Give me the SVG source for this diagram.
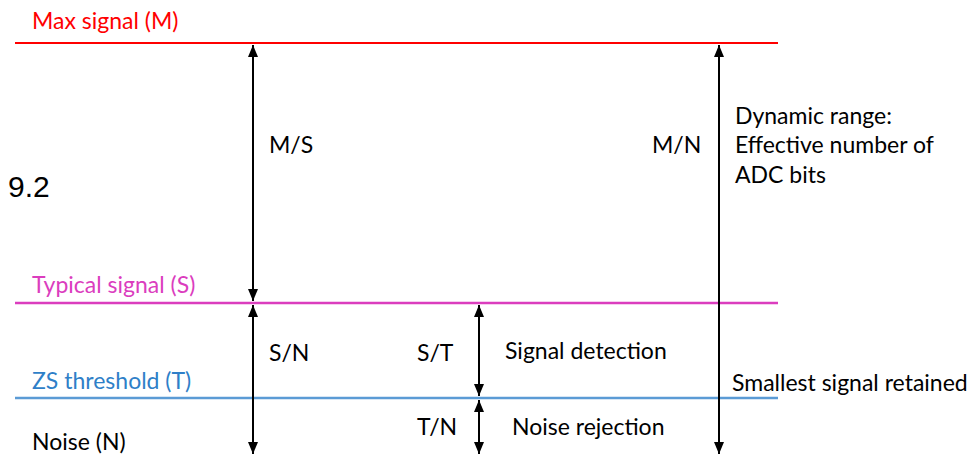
<svg xmlns="http://www.w3.org/2000/svg" width="972" height="455" viewBox="0 0 972 455">
<style>
text{font-family:"Lato","Liberation Sans",sans-serif;font-size:23px;fill:#000}
.conn line{stroke:#000;stroke-width:2}
</style>
<defs>
<marker id="ah" viewBox="0 0 12 10" refX="12" refY="5" markerWidth="12" markerHeight="10" markerUnits="userSpaceOnUse" orient="auto-start-reverse">
<path d="M0,0 L12,5 L0,10 Z" fill="#000"/>
</marker>
</defs>
<rect width="972" height="455" fill="#fff"/>
<g id="max">
<line x1="15" y1="43" x2="778" y2="43" stroke="#FF0000" stroke-width="2"/>
<text x="32" y="29" style="fill:#FF0000">Max signal (M)</text>
</g>
<g id="typical">
<line x1="15" y1="303" x2="778" y2="303" stroke="#DB3DBE" stroke-width="2.5"/>
<text x="32" y="293" style="fill:#DB3DBE">Typical signal (S)</text>
</g>
<g id="zs">
<line x1="15" y1="398" x2="778" y2="398" stroke="#5B9BD5" stroke-width="2.5"/>
<text x="32" y="389" style="fill:#2F7FC8">ZS threshold (T)</text>
</g>
<g id="noise">
<text x="32" y="450">Noise (N)</text>
</g>
<g id="fig">
<text x="8" y="197" style="font-family:'Liberation Sans',Arial,sans-serif;font-size:30px">9.2</text>
</g>
<g class="conn" id="connectors">
<line x1="253" y1="45" x2="253" y2="301" marker-start="url(#ah)" marker-end="url(#ah)"/>
<line x1="253" y1="305" x2="253" y2="454" marker-start="url(#ah)" marker-end="url(#ah)"/>
<line x1="479" y1="305" x2="479" y2="396" marker-start="url(#ah)" marker-end="url(#ah)"/>
<line x1="479" y1="400" x2="479" y2="454" marker-start="url(#ah)" marker-end="url(#ah)"/>
<line x1="719" y1="45" x2="719" y2="454" marker-start="url(#ah)" marker-end="url(#ah)"/>
</g>
<g id="labels">
<text x="269" y="153">M/S</text>
<text x="652" y="153">M/N</text>
<text x="735" y="124">Dynamic range:</text>
<text x="735" y="153">Effective number of</text>
<text x="735" y="183">ADC bits</text>
<text x="269" y="361">S/N</text>
<text x="417" y="361">S/T</text>
<text x="505" y="359">Signal detection</text>
<text x="732" y="391">Smallest signal retained</text>
<text x="417" y="435">T/N</text>
<text x="512" y="435">Noise rejection</text>
</g>
</svg>
